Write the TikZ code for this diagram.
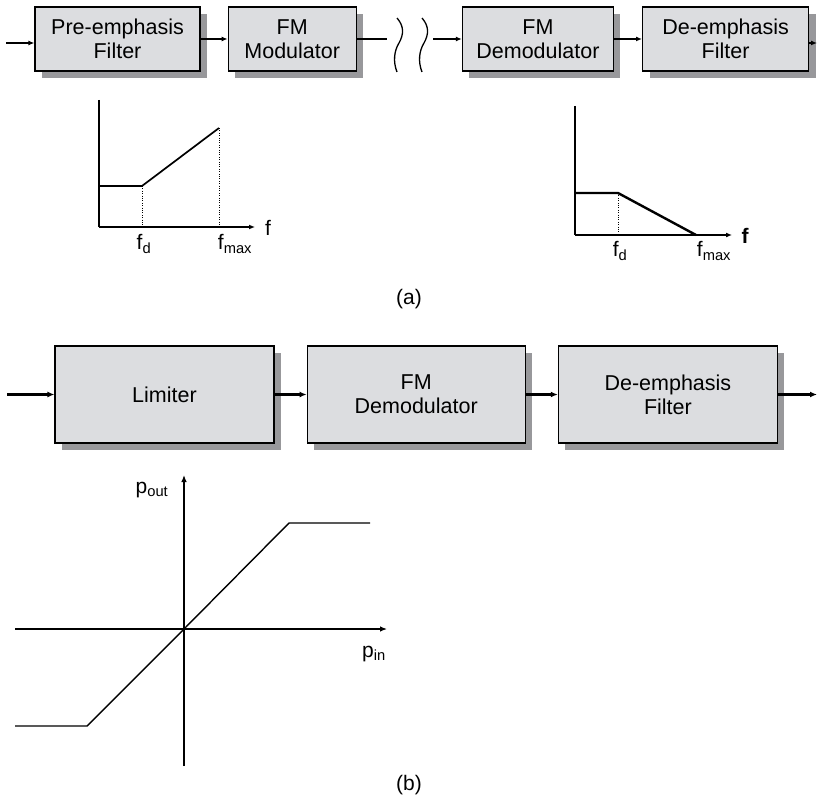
\documentclass[tikz,border=0pt]{standalone}
\usepackage{fontspec}
\setmainfont{Liberation Sans}
\usetikzlibrary{arrows.meta,positioning,shadows}

\definecolor{boxgray}{HTML}{DCDDE0}
\definecolor{shadowgray}{HTML}{98989B}

\tikzset{
  block/.style={draw, line width=1.2pt, fill=boxgray, align=center, inner sep=0pt,
    font=\fontsize{21.5}{24}\selectfont,
    drop shadow={shadow xshift=7pt, shadow yshift=-7pt, fill=shadowgray, opacity=1}},
  wire/.style={line width=1.3pt, -{Latex[length=6pt,width=5pt]}},
  thickwire/.style={line width=2.4pt, -{Latex[length=7pt,width=6pt]}},
  axis/.style={line width=1.2pt},
  label/.style={font=\fontsize{21}{24}\selectfont, inner sep=0pt}
}

\begin{document}
\begin{tikzpicture}[x=1pt, y=-1pt]
  \useasboundingbox (0,0) rectangle (818,802);

  % (a) transmitter and receiver
  \node[block, minimum width=165pt, minimum height=64pt] (pre) at (117.5,39) {Pre-emphasis\\Filter};
  \node[block, minimum width=128pt, minimum height=64pt, right=27pt of pre] (mod) {FM\\Modulator};
  \node[block, minimum width=151pt, minimum height=64pt, right=105pt of mod] (demod) {FM\\Demodulator};
  \node[block, minimum width=166pt, minimum height=64pt, right=28pt of demod] (deemph) {De-emphasis\\Filter};

  \coordinate (in) at (6,43);
  \coordinate (out) at (817,43);
  \coordinate (cut) at (387,39);
  \coordinate (rx) at (433,39);

  \draw[wire] (in) -- (in -| pre.west);
  \draw[wire] (pre) -- (mod);
  \draw[line width=1.3pt] (mod.east) -- (cut);
  \draw[wire] (rx) -- (demod.west);
  \draw[wire] (demod) -- (deemph);
  \draw[wire] (out -| deemph.east) -- (out);

  % channel break
  \foreach \dx in {0,25}
    \draw[line width=1.3pt, xshift=\dx pt] (397,18) .. controls (404,26) and (404,34) .. (399,43)
      .. controls (394,51) and (393,62) .. (397,72);

  % pre-emphasis response
  \draw[axis] (99,100) -- (99,227);
  \draw[axis, -{Latex[length=6pt,width=5pt]}] (99,227) -- (255,227);
  \draw[line width=1.7pt] (99,186) -- (142,186) -- (219,128);
  \draw[dotted] (142,186) -- (142,227) (219,128) -- (219,227);
  \node[label] (fa) at (268,228) {f};
  \node[label] (fda) at (144,244) {f\textsubscript{d}};
  \node[label] (fmaxa) at (235,244) {f\textsubscript{max}};

  % de-emphasis response
  \draw[axis] (575,106) -- (575,235);
  \draw[axis, -{Latex[length=6pt,width=5pt]}] (575,235) -- (732,235);
  \draw[line width=2.4pt] (575,193) -- (618,193) -- (696,235);
  \draw[dotted] (618,193) -- (618,235);
  \node[label, font=\fontsize{21}{24}\selectfont\bfseries] (fb) at (745,236) {f};
  \node[label] (fdb) at (620,251) {f\textsubscript{d}};
  \node[label] (fmaxb) at (714,251) {f\textsubscript{max}};

  \node[label] (capa) at (409,299) {(a)};

  % (b) receiver with limiter
  \node[block, minimum width=219pt, minimum height=97pt] (lim) at (164.5,394.5) {Limiter};
  \node[block, minimum width=218pt, minimum height=97pt, right=32pt of lim] (demod2) {FM\\Demodulator};
  \node[block, minimum width=219pt, minimum height=97pt, right=32pt of demod2] (deemph2) {De-emphasis\\Filter};

  \coordinate (in2) at (7,394.5);
  \coordinate (out2) at (817,394.5);

  \draw[thickwire] (in2) -- (lim.west);
  \draw[thickwire] (lim) -- (demod2);
  \draw[thickwire] (demod2) -- (deemph2);
  \draw[thickwire] (deemph2.east) -- (out2);

  % limiter characteristic
  \draw[axis, -{Latex[length=7pt,width=5.5pt]}] (184,766) -- (184,475);
  \draw[axis, -{Latex[length=7pt,width=5.5pt]}] (15,629) -- (387,629);
  \draw[line width=1.4pt] (15,726) -- (87,726) -- (184,629) -- (289,523) -- (370,523);
  \node[label] (pout) at (152,490) {p\textsubscript{out}};
  \node[label] (pin) at (374,654) {p\textsubscript{in}};

  \node[label] (capb) at (409,785) {(b)};
\end{tikzpicture}
\end{document}
